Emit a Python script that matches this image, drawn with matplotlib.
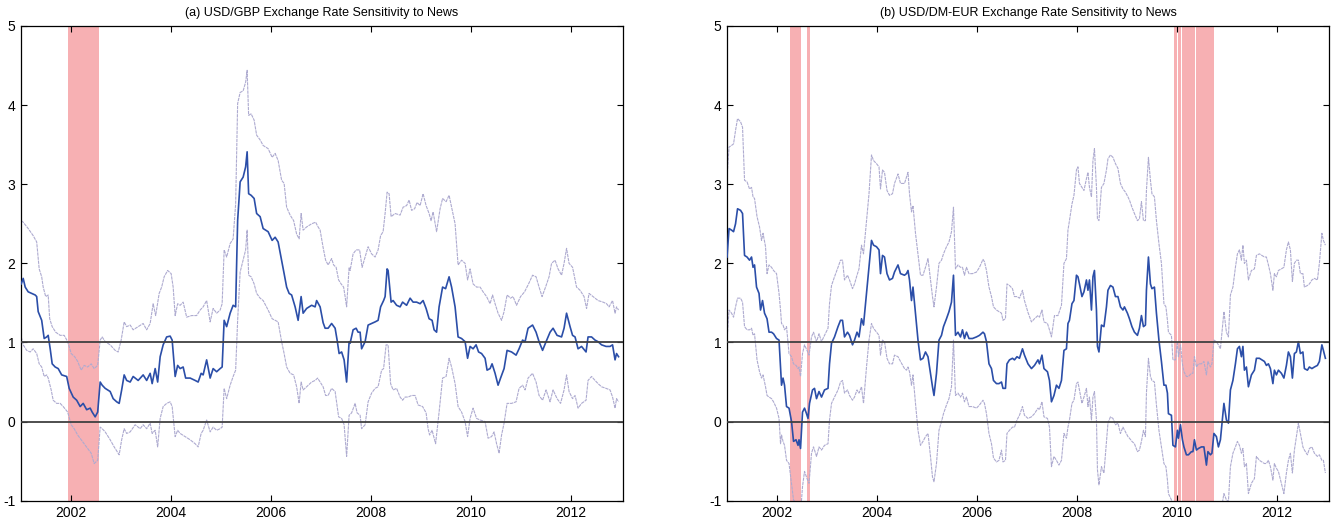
import matplotlib
matplotlib.use("Agg")
import matplotlib.pyplot as plt
from matplotlib.ticker import FuncFormatter

plt.rcParams['font.family'] = ['Liberation Sans', 'DejaVu Sans']
plt.rcParams['axes.unicode_minus'] = False

# ---- (a) USD/GBP: point estimate and confidence band ----
gbp_t = [2001.01, 2001.05, 2001.09, 2001.15, 2001.22, 2001.29, 2001.32, 2001.35, 2001.42, 2001.47,
         2001.52, 2001.55, 2001.59, 2001.63, 2001.69, 2001.75, 2001.82, 2001.92, 2001.97, 2002.05,
         2002.12, 2002.19, 2002.25, 2002.32, 2002.39, 2002.43, 2002.49, 2002.54, 2002.59, 2002.63,
         2002.69, 2002.79, 2002.85, 2002.92, 2002.97, 2003.02, 2003.07, 2003.12, 2003.19, 2003.25,
         2003.35, 2003.45, 2003.52, 2003.59, 2003.63, 2003.69, 2003.74, 2003.79, 2003.85, 2003.92,
         2003.99, 2004.03, 2004.09, 2004.14, 2004.19, 2004.25, 2004.30, 2004.39, 2004.49, 2004.55,
         2004.61, 2004.65, 2004.72, 2004.79, 2004.85, 2004.92, 2004.99, 2005.03, 2005.07, 2005.12,
         2005.19, 2005.25, 2005.30, 2005.34, 2005.39, 2005.45, 2005.50, 2005.53, 2005.56, 2005.61,
         2005.67, 2005.72, 2005.79, 2005.85, 2005.95, 2006.03, 2006.09, 2006.15, 2006.22, 2006.27,
         2006.32, 2006.37, 2006.42, 2006.49, 2006.55, 2006.61, 2006.65, 2006.72, 2006.82, 2006.89,
         2006.92, 2006.99, 2007.05, 2007.09, 2007.15, 2007.22, 2007.29, 2007.33, 2007.37, 2007.42,
         2007.47, 2007.52, 2007.57, 2007.59, 2007.65, 2007.71, 2007.75, 2007.79, 2007.82, 2007.89,
         2007.95, 2008.02, 2008.09, 2008.15, 2008.20, 2008.26, 2008.29, 2008.33, 2008.35, 2008.41,
         2008.45, 2008.52, 2008.59, 2008.64, 2008.72, 2008.79, 2008.85, 2008.92, 2008.99, 2009.05,
         2009.11, 2009.17, 2009.23, 2009.27, 2009.32, 2009.37, 2009.44, 2009.50, 2009.57, 2009.62,
         2009.69, 2009.75, 2009.82, 2009.89, 2009.94, 2009.99, 2010.05, 2010.11, 2010.16, 2010.22,
         2010.29, 2010.33, 2010.39, 2010.43, 2010.49, 2010.55, 2010.60, 2010.67, 2010.73, 2010.82,
         2010.91, 2010.97, 2011.04, 2011.09, 2011.15, 2011.24, 2011.31, 2011.37, 2011.44, 2011.51,
         2011.59, 2011.65, 2011.73, 2011.82, 2011.87, 2011.92, 2011.99, 2012.04, 2012.09, 2012.15,
         2012.22, 2012.31, 2012.35, 2012.42, 2012.49, 2012.55, 2012.62, 2012.71, 2012.79, 2012.84,
         2012.89, 2012.92, 2012.96]
gbp_mid = [1.74, 1.81, 1.70, 1.64, 1.62, 1.60, 1.58, 1.39, 1.28, 1.05,
           1.07, 1.09, 0.92, 0.73, 0.69, 0.67, 0.59, 0.57, 0.42, 0.31,
           0.27, 0.19, 0.23, 0.15, 0.17, 0.12, 0.06, 0.12, 0.50, 0.46,
           0.42, 0.38, 0.29, 0.25, 0.23, 0.40, 0.59, 0.52, 0.50, 0.57,
           0.52, 0.59, 0.52, 0.61, 0.48, 0.67, 0.50, 0.82, 0.97, 1.07,
           1.08, 1.03, 0.57, 0.71, 0.67, 0.69, 0.55, 0.55, 0.52, 0.50,
           0.61, 0.59, 0.78, 0.55, 0.67, 0.63, 0.67, 0.69, 1.28, 1.20,
           1.37, 1.47, 1.45, 2.54, 3.03, 3.09, 3.22, 3.41, 2.88, 2.86,
           2.82, 2.63, 2.59, 2.44, 2.40, 2.29, 2.33, 2.27, 2.04, 1.87,
           1.70, 1.62, 1.60, 1.45, 1.28, 1.58, 1.37, 1.43, 1.47, 1.45,
           1.53, 1.45, 1.25, 1.18, 1.18, 1.24, 1.18, 1.03, 0.86, 0.88,
           0.78, 0.50, 1.01, 0.99, 1.16, 1.18, 1.13, 1.13, 0.92, 1.01,
           1.22, 1.24, 1.26, 1.28, 1.45, 1.53, 1.58, 1.93, 1.91, 1.51,
           1.53, 1.47, 1.45, 1.51, 1.47, 1.56, 1.51, 1.51, 1.49, 1.53,
           1.43, 1.30, 1.28, 1.16, 1.13, 1.45, 1.70, 1.68, 1.83, 1.70,
           1.45, 1.07, 1.05, 1.01, 0.80, 0.95, 0.92, 0.97, 0.88, 0.86,
           0.80, 0.65, 0.67, 0.73, 0.61, 0.46, 0.55, 0.67, 0.90, 0.88,
           0.84, 0.92, 1.03, 1.01, 1.18, 1.22, 1.13, 1.01, 0.90, 1.01,
           1.13, 1.18, 1.09, 1.07, 1.18, 1.37, 1.20, 1.09, 1.07, 0.92,
           0.95, 0.88, 1.07, 1.07, 1.03, 1.01, 0.97, 0.95, 0.95, 0.97,
           0.78, 0.86, 0.82]

gbp_hi_t = [2001.01, 2001.05, 2001.15, 2001.25, 2001.32, 2001.37, 2001.42, 2001.45, 2001.50, 2001.55,
            2001.58, 2001.63, 2001.70, 2001.79, 2001.87, 2001.94, 2002.01, 2002.08, 2002.14, 2002.21,
            2002.27, 2002.34, 2002.41, 2002.47, 2002.54, 2002.59, 2002.63, 2002.69, 2002.79, 2002.89,
            2002.95, 2003.01, 2003.07, 2003.12, 2003.19, 2003.25, 2003.35, 2003.45, 2003.52, 2003.59,
            2003.65, 2003.70, 2003.77, 2003.82, 2003.87, 2003.94, 2004.01, 2004.05, 2004.09, 2004.14,
            2004.19, 2004.25, 2004.32, 2004.42, 2004.52, 2004.59, 2004.65, 2004.72, 2004.79, 2004.85,
            2004.92, 2004.99, 2005.03, 2005.07, 2005.12, 2005.19, 2005.25, 2005.30, 2005.34, 2005.39,
            2005.45, 2005.50, 2005.53, 2005.56, 2005.61, 2005.67, 2005.72, 2005.79, 2005.85, 2005.95,
            2006.03, 2006.09, 2006.15, 2006.22, 2006.27, 2006.32, 2006.39, 2006.46, 2006.52, 2006.57,
            2006.61, 2006.65, 2006.72, 2006.82, 2006.90, 2006.95, 2006.99, 2007.05, 2007.10, 2007.15,
            2007.22, 2007.26, 2007.31, 2007.36, 2007.41, 2007.46, 2007.49, 2007.52, 2007.57, 2007.59,
            2007.65, 2007.71, 2007.78, 2007.83, 2007.89, 2007.95, 2008.02, 2008.09, 2008.15, 2008.20,
            2008.25, 2008.29, 2008.33, 2008.37, 2008.41, 2008.49, 2008.59, 2008.65, 2008.72, 2008.77,
            2008.82, 2008.88, 2008.93, 2008.99, 2009.05, 2009.11, 2009.17, 2009.21, 2009.25, 2009.32,
            2009.39, 2009.44, 2009.51, 2009.57, 2009.62, 2009.69, 2009.75, 2009.82, 2009.89, 2009.94,
            2009.99, 2010.05, 2010.12, 2010.19, 2010.25, 2010.32, 2010.39, 2010.44, 2010.49, 2010.55,
            2010.62, 2010.67, 2010.73, 2010.80, 2010.85, 2010.92, 2011.00, 2011.08, 2011.16, 2011.24,
            2011.31, 2011.37, 2011.43, 2011.50, 2011.57, 2011.62, 2011.69, 2011.75, 2011.82, 2011.87,
            2011.92, 2011.97, 2012.04, 2012.12, 2012.19, 2012.27, 2012.32, 2012.37, 2012.45, 2012.55,
            2012.65, 2012.72, 2012.77, 2012.84, 2012.89, 2012.92, 2012.96]
gbp_hi = [2.54, 2.52, 2.44, 2.35, 2.27, 1.93, 1.83, 1.70, 1.58, 1.60,
          1.30, 1.20, 1.13, 1.09, 1.09, 1.01, 0.86, 0.82, 0.76, 0.65,
          0.71, 0.69, 0.73, 0.67, 0.71, 1.03, 1.07, 1.01, 0.97, 0.90,
          0.88, 1.03, 1.26, 1.20, 1.22, 1.16, 1.20, 1.24, 1.16, 1.24,
          1.49, 1.34, 1.62, 1.70, 1.83, 1.91, 1.87, 1.70, 1.34, 1.49,
          1.47, 1.51, 1.32, 1.34, 1.34, 1.41, 1.45, 1.53, 1.26, 1.43,
          1.37, 1.41, 1.49, 2.17, 2.08, 2.25, 2.31, 2.75, 4.02, 4.16,
          4.18, 4.29, 4.44, 3.87, 3.89, 3.81, 3.62, 3.56, 3.49, 3.45,
          3.34, 3.39, 3.30, 3.05, 3.01, 2.71, 2.61, 2.54, 2.37, 2.31,
          2.63, 2.42, 2.46, 2.50, 2.52, 2.46, 2.42, 2.20, 2.04, 1.98,
          2.06, 1.98, 1.95, 1.79, 1.74, 1.70, 1.58, 1.45, 1.95, 1.91,
          2.12, 2.17, 2.17, 1.95, 2.08, 2.21, 2.12, 2.08, 2.17, 2.35,
          2.40, 2.63, 2.90, 2.88, 2.59, 2.63, 2.61, 2.71, 2.73, 2.80,
          2.67, 2.69, 2.77, 2.73, 2.88, 2.73, 2.63, 2.54, 2.65, 2.40,
          2.69, 2.82, 2.78, 2.86, 2.71, 2.50, 1.98, 2.04, 2.00, 1.79,
          1.93, 1.74, 1.70, 1.70, 1.64, 1.58, 1.49, 1.60, 1.49, 1.37,
          1.28, 1.39, 1.60, 1.56, 1.58, 1.47, 1.58, 1.64, 1.74, 1.85,
          1.83, 1.70, 1.58, 1.70, 1.83, 2.00, 2.04, 1.93, 1.85, 2.00,
          2.19, 2.00, 1.95, 1.70, 1.66, 1.58, 1.43, 1.62, 1.58, 1.53,
          1.51, 1.49, 1.45, 1.53, 1.37, 1.45, 1.41]

gbp_lo_t = [2001.01, 2001.05, 2001.12, 2001.19, 2001.25, 2001.32, 2001.37, 2001.42, 2001.47, 2001.52,
            2001.55, 2001.61, 2001.65, 2001.72, 2001.79, 2001.85, 2001.94, 2002.01, 2002.07, 2002.14,
            2002.21, 2002.27, 2002.34, 2002.41, 2002.47, 2002.54, 2002.59, 2002.63, 2002.69, 2002.79,
            2002.87, 2002.97, 2003.02, 2003.07, 2003.12, 2003.19, 2003.29, 2003.39, 2003.45, 2003.52,
            2003.59, 2003.63, 2003.69, 2003.74, 2003.79, 2003.85, 2003.92, 2003.99, 2004.03, 2004.09,
            2004.14, 2004.19, 2004.29, 2004.39, 2004.49, 2004.55, 2004.61, 2004.65, 2004.72, 2004.79,
            2004.85, 2004.92, 2004.99, 2005.03, 2005.07, 2005.12, 2005.19, 2005.25, 2005.30, 2005.34,
            2005.39, 2005.45, 2005.50, 2005.53, 2005.56, 2005.61, 2005.67, 2005.72, 2005.79, 2005.85,
            2005.95, 2006.03, 2006.09, 2006.15, 2006.22, 2006.27, 2006.32, 2006.39, 2006.46, 2006.52,
            2006.57, 2006.61, 2006.65, 2006.72, 2006.82, 2006.89, 2006.94, 2006.99, 2007.05, 2007.10,
            2007.15, 2007.22, 2007.29, 2007.36, 2007.42, 2007.47, 2007.52, 2007.57, 2007.62, 2007.69,
            2007.73, 2007.79, 2007.82, 2007.89, 2007.95, 2008.02, 2008.09, 2008.15, 2008.22, 2008.26,
            2008.31, 2008.35, 2008.40, 2008.45, 2008.52, 2008.59, 2008.64, 2008.69, 2008.75, 2008.82,
            2008.89, 2008.95, 2009.04, 2009.11, 2009.15, 2009.18, 2009.23, 2009.30, 2009.37, 2009.44,
            2009.51, 2009.57, 2009.62, 2009.69, 2009.75, 2009.82, 2009.89, 2009.94, 2009.99, 2010.05,
            2010.12, 2010.19, 2010.29, 2010.35, 2010.42, 2010.47, 2010.52, 2010.57, 2010.62, 2010.67,
            2010.73, 2010.82, 2010.91, 2010.97, 2011.04, 2011.09, 2011.15, 2011.24, 2011.31, 2011.37,
            2011.44, 2011.51, 2011.59, 2011.65, 2011.73, 2011.80, 2011.87, 2011.92, 2011.97, 2012.04,
            2012.09, 2012.15, 2012.22, 2012.31, 2012.35, 2012.42, 2012.49, 2012.55, 2012.62, 2012.71,
            2012.79, 2012.84, 2012.89, 2012.92, 2012.96]
gbp_lo = [1.07, 0.97, 0.90, 0.88, 0.92, 0.86, 0.73, 0.69, 0.57, 0.59,
          0.55, 0.40, 0.27, 0.23, 0.23, 0.19, 0.12, -0.04, -0.09, -0.17,
          -0.23, -0.28, -0.34, -0.40, -0.53, -0.49, -0.07, -0.09, -0.13, -0.23,
          -0.32, -0.42, -0.23, -0.09, -0.15, -0.13, -0.04, -0.09, -0.04, -0.09,
          -0.02, -0.15, -0.11, -0.32, 0.04, 0.19, 0.23, 0.25, 0.19, -0.19,
          -0.11, -0.15, -0.19, -0.23, -0.28, -0.32, -0.15, -0.11, 0.02, -0.13,
          -0.07, -0.11, -0.09, -0.07, 0.42, 0.29, 0.46, 0.57, 0.65, 1.28,
          1.89, 2.04, 2.17, 2.42, 1.85, 1.83, 1.74, 1.62, 1.56, 1.53,
          1.41, 1.30, 1.28, 1.26, 1.01, 0.86, 0.69, 0.61, 0.59, 0.44,
          0.23, 0.50, 0.40, 0.44, 0.50, 0.52, 0.55, 0.50, 0.44, 0.33,
          0.33, 0.42, 0.38, 0.06, 0.04, -0.04, -0.44, 0.08, 0.11, 0.23,
          0.11, 0.08, -0.09, -0.04, 0.25, 0.36, 0.42, 0.44, 0.65, 0.67,
          0.97, 0.97, 0.48, 0.40, 0.42, 0.31, 0.27, 0.31, 0.31, 0.33,
          0.33, 0.21, 0.19, 0.11, -0.09, -0.17, -0.11, -0.28, 0.12, 0.55,
          0.57, 0.80, 0.69, 0.48, 0.19, 0.12, 0.00, -0.19, 0.04, 0.17,
          0.04, 0.02, 0.00, -0.21, -0.19, -0.13, -0.28, -0.40, -0.17, -0.02,
          0.23, 0.23, 0.25, 0.42, 0.46, 0.40, 0.55, 0.61, 0.50, 0.33,
          0.27, 0.40, 0.25, 0.40, 0.29, 0.23, 0.40, 0.59, 0.38, 0.29,
          0.33, 0.17, 0.23, 0.27, 0.52, 0.57, 0.52, 0.48, 0.44, 0.42,
          0.40, 0.31, 0.17, 0.29, 0.25]

# significance periods shaded in panel (a)
gbp_shade = [(2001.953, 2002.559)]

# ---- (b) USD/DM-EUR: point estimate and confidence band ----
eur_t = [2001.00, 2001.04, 2001.09, 2001.13, 2001.17, 2001.21, 2001.27, 2001.31, 2001.35, 2001.40,
         2001.45, 2001.49, 2001.52, 2001.55, 2001.59, 2001.64, 2001.67, 2001.71, 2001.75, 2001.80,
         2001.84, 2001.89, 2001.93, 2001.99, 2002.04, 2002.07, 2002.09, 2002.12, 2002.15, 2002.19,
         2002.24, 2002.29, 2002.33, 2002.38, 2002.42, 2002.44, 2002.47, 2002.51, 2002.55, 2002.59,
         2002.62, 2002.65, 2002.71, 2002.75, 2002.79, 2002.84, 2002.89, 2002.95, 2003.02, 2003.05,
         2003.09, 2003.15, 2003.22, 2003.27, 2003.31, 2003.35, 2003.41, 2003.45, 2003.51, 2003.55,
         2003.60, 2003.64, 2003.69, 2003.73, 2003.79, 2003.84, 2003.89, 2003.93, 2003.99, 2004.04,
         2004.07, 2004.11, 2004.15, 2004.20, 2004.25, 2004.31, 2004.35, 2004.42, 2004.47, 2004.55,
         2004.59, 2004.62, 2004.65, 2004.69, 2004.72, 2004.77, 2004.82, 2004.87, 2004.92, 2004.97,
         2005.02, 2005.07, 2005.11, 2005.14, 2005.19, 2005.24, 2005.29, 2005.33, 2005.39, 2005.44,
         2005.49, 2005.53, 2005.57, 2005.62, 2005.67, 2005.71, 2005.75, 2005.79, 2005.84, 2005.91,
         2005.99, 2006.05, 2006.12, 2006.15, 2006.19, 2006.24, 2006.29, 2006.33, 2006.39, 2006.44,
         2006.49, 2006.52, 2006.57, 2006.60, 2006.65, 2006.71, 2006.75, 2006.80, 2006.85, 2006.91,
         2006.95, 2007.02, 2007.09, 2007.15, 2007.22, 2007.25, 2007.30, 2007.34, 2007.41, 2007.45,
         2007.49, 2007.54, 2007.59, 2007.64, 2007.69, 2007.74, 2007.79, 2007.82, 2007.85, 2007.90,
         2007.94, 2007.99, 2008.02, 2008.05, 2008.10, 2008.14, 2008.19, 2008.22, 2008.25, 2008.29,
         2008.32, 2008.35, 2008.39, 2008.41, 2008.44, 2008.49, 2008.54, 2008.59, 2008.62, 2008.67,
         2008.72, 2008.77, 2008.82, 2008.87, 2008.92, 2008.95, 2009.01, 2009.05, 2009.10, 2009.15,
         2009.21, 2009.25, 2009.29, 2009.33, 2009.37, 2009.39, 2009.43, 2009.47, 2009.50, 2009.55,
         2009.59, 2009.64, 2009.69, 2009.74, 2009.78, 2009.81, 2009.83, 2009.89, 2009.92, 2009.97,
         2010.01, 2010.03, 2010.07, 2010.11, 2010.14, 2010.19, 2010.23, 2010.29, 2010.32, 2010.35,
         2010.39, 2010.43, 2010.49, 2010.54, 2010.59, 2010.62, 2010.67, 2010.70, 2010.74, 2010.79,
         2010.83, 2010.87, 2010.94, 2010.99, 2011.03, 2011.07, 2011.12, 2011.17, 2011.21, 2011.25,
         2011.29, 2011.32, 2011.35, 2011.39, 2011.43, 2011.49, 2011.55, 2011.59, 2011.65, 2011.70,
         2011.75, 2011.79, 2011.83, 2011.87, 2011.92, 2011.95, 2011.99, 2012.03, 2012.09, 2012.14,
         2012.19, 2012.23, 2012.27, 2012.31, 2012.35, 2012.39, 2012.43, 2012.47, 2012.52, 2012.55,
         2012.61, 2012.65, 2012.70, 2012.75, 2012.81, 2012.85, 2012.90, 2012.93, 2012.97]
eur_mid = [2.08, 2.44, 2.42, 2.40, 2.50, 2.69, 2.67, 2.63, 2.10, 2.08,
           2.04, 2.08, 1.95, 1.98, 1.70, 1.62, 1.41, 1.53, 1.37, 1.30,
           1.13, 1.13, 1.11, 1.05, 1.03, 0.69, 0.46, 0.55, 0.46, 0.19,
           0.17, 0.00, -0.25, -0.23, -0.30, -0.23, -0.34, 0.12, 0.17, 0.10,
           0.04, 0.23, 0.40, 0.42, 0.29, 0.38, 0.31, 0.40, 0.42, 0.73,
           0.99, 1.07, 1.20, 1.28, 1.28, 1.07, 1.13, 1.09, 0.97, 1.03,
           1.13, 1.07, 1.30, 1.22, 1.62, 1.95, 2.29, 2.23, 2.21, 2.17,
           1.87, 2.10, 2.08, 1.87, 1.79, 1.81, 1.89, 1.98, 1.87, 1.85,
           1.87, 1.91, 1.79, 1.53, 1.70, 1.37, 1.03, 0.78, 0.80, 0.88,
           0.82, 0.61, 0.44, 0.33, 0.61, 1.03, 1.09, 1.20, 1.30, 1.39,
           1.51, 1.85, 1.09, 1.13, 1.07, 1.16, 1.05, 1.13, 1.05, 1.05,
           1.07, 1.09, 1.13, 1.11, 1.01, 0.73, 0.67, 0.52, 0.48, 0.48,
           0.50, 0.42, 0.42, 0.73, 0.78, 0.80, 0.78, 0.82, 0.80, 0.92,
           0.84, 0.73, 0.67, 0.71, 0.78, 0.73, 0.84, 0.67, 0.63, 0.52,
           0.25, 0.33, 0.46, 0.42, 0.52, 0.90, 0.92, 1.24, 1.28, 1.49,
           1.53, 1.85, 1.83, 1.74, 1.58, 1.64, 1.79, 1.66, 1.79, 1.41,
           1.83, 1.91, 1.41, 0.95, 0.88, 1.22, 1.20, 1.45, 1.66, 1.72,
           1.70, 1.58, 1.58, 1.45, 1.41, 1.45, 1.37, 1.30, 1.20, 1.13,
           1.09, 1.18, 1.34, 1.20, 1.22, 1.66, 2.08, 1.74, 1.68, 1.70,
           1.37, 1.03, 0.76, 0.46, 0.46, 0.36, 0.10, 0.08, -0.30, -0.32,
           -0.11, -0.21, -0.04, -0.23, -0.32, -0.42, -0.42, -0.38, -0.38, -0.23,
           -0.36, -0.34, -0.32, -0.32, -0.55, -0.38, -0.42, -0.40, -0.15, -0.19,
           -0.32, -0.23, 0.23, 0.02, -0.02, 0.40, 0.52, 0.73, 0.92, 0.95,
           0.82, 0.95, 0.65, 0.69, 0.44, 0.59, 0.65, 0.80, 0.80, 0.78,
           0.76, 0.71, 0.73, 0.67, 0.48, 0.65, 0.59, 0.65, 0.61, 0.55,
           0.71, 0.88, 0.82, 0.55, 0.86, 0.88, 1.01, 0.86, 0.88, 0.67,
           0.65, 0.69, 0.67, 0.69, 0.71, 0.76, 0.97, 0.90, 0.80]

eur_hi_t = [2001.00, 2001.04, 2001.09, 2001.13, 2001.17, 2001.21, 2001.27, 2001.31, 2001.35, 2001.40,
            2001.45, 2001.49, 2001.52, 2001.55, 2001.60, 2001.65, 2001.69, 2001.72, 2001.77, 2001.80,
            2001.84, 2001.89, 2001.93, 2001.99, 2002.04, 2002.07, 2002.09, 2002.12, 2002.15, 2002.19,
            2002.24, 2002.29, 2002.33, 2002.38, 2002.42, 2002.44, 2002.47, 2002.51, 2002.55, 2002.60,
            2002.64, 2002.69, 2002.73, 2002.79, 2002.84, 2002.89, 2002.95, 2003.02, 2003.05, 2003.09,
            2003.15, 2003.22, 2003.27, 2003.31, 2003.35, 2003.41, 2003.45, 2003.51, 2003.55, 2003.60,
            2003.64, 2003.69, 2003.73, 2003.79, 2003.84, 2003.89, 2003.93, 2003.99, 2004.04, 2004.07,
            2004.11, 2004.15, 2004.20, 2004.25, 2004.31, 2004.35, 2004.42, 2004.47, 2004.55, 2004.59,
            2004.62, 2004.65, 2004.69, 2004.72, 2004.77, 2004.82, 2004.87, 2004.92, 2004.97, 2005.02,
            2005.07, 2005.11, 2005.14, 2005.19, 2005.24, 2005.29, 2005.33, 2005.39, 2005.44, 2005.49,
            2005.53, 2005.57, 2005.62, 2005.67, 2005.71, 2005.75, 2005.79, 2005.84, 2005.91, 2005.99,
            2006.05, 2006.12, 2006.15, 2006.19, 2006.24, 2006.29, 2006.33, 2006.39, 2006.44, 2006.49,
            2006.52, 2006.57, 2006.60, 2006.65, 2006.71, 2006.75, 2006.80, 2006.85, 2006.91, 2006.95,
            2007.02, 2007.09, 2007.15, 2007.22, 2007.25, 2007.30, 2007.34, 2007.41, 2007.45, 2007.49,
            2007.55, 2007.62, 2007.69, 2007.74, 2007.79, 2007.82, 2007.85, 2007.90, 2007.94, 2007.99,
            2008.02, 2008.05, 2008.10, 2008.14, 2008.19, 2008.22, 2008.25, 2008.29, 2008.32, 2008.35,
            2008.39, 2008.41, 2008.44, 2008.49, 2008.54, 2008.59, 2008.62, 2008.67, 2008.72, 2008.77,
            2008.82, 2008.87, 2008.92, 2008.97, 2009.02, 2009.05, 2009.10, 2009.15, 2009.21, 2009.25,
            2009.29, 2009.33, 2009.37, 2009.39, 2009.43, 2009.47, 2009.50, 2009.55, 2009.59, 2009.64,
            2009.69, 2009.74, 2009.78, 2009.81, 2009.83, 2009.89, 2009.92, 2009.97, 2010.01, 2010.03,
            2010.07, 2010.11, 2010.14, 2010.19, 2010.23, 2010.29, 2010.32, 2010.35, 2010.39, 2010.43,
            2010.49, 2010.54, 2010.59, 2010.62, 2010.67, 2010.70, 2010.74, 2010.79, 2010.83, 2010.87,
            2010.94, 2010.99, 2011.03, 2011.07, 2011.12, 2011.17, 2011.21, 2011.25, 2011.29, 2011.32,
            2011.35, 2011.39, 2011.43, 2011.49, 2011.55, 2011.59, 2011.65, 2011.70, 2011.75, 2011.79,
            2011.83, 2011.87, 2011.92, 2011.95, 2011.99, 2012.03, 2012.09, 2012.14, 2012.19, 2012.23,
            2012.27, 2012.31, 2012.35, 2012.39, 2012.43, 2012.47, 2012.52, 2012.55, 2012.61, 2012.65,
            2012.70, 2012.75, 2012.81, 2012.85, 2012.90, 2012.93, 2012.97]
eur_hi = [3.09, 3.47, 3.49, 3.51, 3.68, 3.83, 3.79, 3.72, 3.05, 3.03,
          2.94, 2.96, 2.84, 2.82, 2.59, 2.46, 2.29, 2.38, 2.21, 1.87,
          1.98, 1.95, 1.91, 1.87, 1.62, 1.41, 1.24, 1.22, 1.16, 1.20,
          0.86, 0.82, 0.73, 0.71, 0.67, 0.69, 0.57, 0.86, 0.97, 0.90,
          0.84, 1.07, 1.13, 1.01, 1.11, 1.01, 1.09, 1.18, 1.49, 1.72,
          1.83, 1.95, 2.04, 2.04, 1.79, 1.85, 1.79, 1.68, 1.74, 1.85,
          1.93, 2.23, 2.12, 2.54, 2.88, 3.37, 3.30, 3.26, 3.22, 2.94,
          3.18, 3.15, 2.92, 2.86, 2.88, 3.01, 3.13, 3.01, 3.01, 3.09,
          3.15, 2.88, 2.65, 2.73, 2.38, 2.12, 1.85, 1.85, 1.95, 2.06,
          1.79, 1.58, 1.45, 1.70, 2.00, 2.04, 2.12, 2.21, 2.27, 2.40,
          2.71, 1.93, 1.98, 1.95, 1.95, 1.85, 1.95, 1.87, 1.87, 1.89,
          1.95, 2.05, 2.02, 1.91, 1.70, 1.58, 1.45, 1.41, 1.39, 1.37,
          1.28, 1.30, 1.74, 1.72, 1.68, 1.58, 1.58, 1.56, 1.66, 1.53,
          1.38, 1.26, 1.30, 1.34, 1.32, 1.41, 1.26, 1.24, 1.16, 1.07,
          1.34, 1.34, 1.47, 2.00, 2.06, 2.42, 2.54, 2.75, 2.86, 3.18,
          3.22, 3.01, 2.96, 2.92, 3.07, 3.15, 2.96, 2.84, 3.30, 3.45,
          2.96, 2.56, 2.54, 2.96, 3.01, 3.18, 3.32, 3.37, 3.34, 3.26,
          3.20, 3.01, 2.94, 2.90, 2.84, 2.80, 2.71, 2.63, 2.54, 2.56,
          2.78, 2.54, 2.54, 2.92, 3.34, 3.05, 2.88, 2.84, 2.54, 2.25,
          2.00, 1.49, 1.45, 1.28, 1.13, 1.09, 0.78, 0.78, 1.01, 0.82,
          0.97, 0.73, 0.63, 0.57, 0.57, 0.61, 0.61, 0.82, 0.69, 0.73,
          0.73, 0.76, 0.59, 0.76, 0.69, 0.73, 1.03, 1.01, 0.97, 0.92,
          1.39, 1.13, 1.07, 1.60, 1.70, 1.95, 2.12, 2.17, 2.04, 2.23,
          2.00, 2.04, 1.79, 1.91, 1.93, 2.10, 2.12, 2.10, 2.08, 2.08,
          1.98, 1.87, 1.66, 1.87, 1.83, 1.91, 1.93, 1.95, 2.17, 2.27,
          2.17, 1.77, 2.00, 2.04, 2.04, 1.87, 1.87, 1.70, 1.72, 1.74,
          1.79, 1.81, 1.79, 2.00, 2.38, 2.29, 2.23]

eur_lo_t = [2001.00, 2001.04, 2001.09, 2001.13, 2001.17, 2001.21, 2001.27, 2001.31, 2001.35, 2001.40,
            2001.45, 2001.49, 2001.52, 2001.55, 2001.60, 2001.65, 2001.69, 2001.72, 2001.77, 2001.80,
            2001.84, 2001.89, 2001.93, 2001.99, 2002.04, 2002.07, 2002.09, 2002.12, 2002.15, 2002.19,
            2002.24, 2002.29, 2002.33, 2002.38, 2002.42, 2002.47, 2002.51, 2002.55, 2002.60, 2002.64,
            2002.69, 2002.73, 2002.79, 2002.84, 2002.89, 2002.95, 2003.02, 2003.05, 2003.09, 2003.15,
            2003.22, 2003.27, 2003.31, 2003.35, 2003.41, 2003.45, 2003.51, 2003.55, 2003.60, 2003.64,
            2003.69, 2003.73, 2003.79, 2003.84, 2003.89, 2003.93, 2003.99, 2004.04, 2004.07, 2004.11,
            2004.15, 2004.20, 2004.25, 2004.31, 2004.35, 2004.42, 2004.47, 2004.55, 2004.59, 2004.62,
            2004.65, 2004.69, 2004.72, 2004.77, 2004.82, 2004.87, 2004.92, 2004.97, 2005.02, 2005.07,
            2005.11, 2005.14, 2005.19, 2005.24, 2005.29, 2005.33, 2005.39, 2005.44, 2005.49, 2005.53,
            2005.57, 2005.62, 2005.67, 2005.71, 2005.75, 2005.79, 2005.84, 2005.91, 2005.99, 2006.05,
            2006.12, 2006.15, 2006.19, 2006.24, 2006.29, 2006.33, 2006.39, 2006.44, 2006.49, 2006.52,
            2006.57, 2006.60, 2006.65, 2006.71, 2006.75, 2006.80, 2006.85, 2006.91, 2006.95, 2007.02,
            2007.09, 2007.15, 2007.22, 2007.25, 2007.30, 2007.34, 2007.41, 2007.45, 2007.49, 2007.54,
            2007.59, 2007.64, 2007.69, 2007.74, 2007.79, 2007.82, 2007.85, 2007.90, 2007.94, 2007.99,
            2008.02, 2008.05, 2008.10, 2008.14, 2008.19, 2008.22, 2008.25, 2008.29, 2008.32, 2008.35,
            2008.39, 2008.41, 2008.44, 2008.49, 2008.54, 2008.59, 2008.62, 2008.67, 2008.72, 2008.77,
            2008.82, 2008.87, 2008.92, 2008.97, 2009.02, 2009.05, 2009.10, 2009.15, 2009.21, 2009.25,
            2009.29, 2009.33, 2009.37, 2009.39, 2009.43, 2009.47, 2009.50, 2009.55, 2009.59, 2009.64,
            2009.69, 2009.74, 2009.78, 2009.81, 2009.83, 2009.89, 2009.92, 2010.02, 2010.15, 2010.29,
            2010.42, 2010.59, 2010.74, 2010.83, 2010.89, 2010.94, 2010.99, 2011.03, 2011.07, 2011.12,
            2011.17, 2011.21, 2011.25, 2011.29, 2011.32, 2011.35, 2011.39, 2011.43, 2011.49, 2011.55,
            2011.59, 2011.65, 2011.70, 2011.75, 2011.79, 2011.83, 2011.87, 2011.92, 2011.95, 2011.99,
            2012.03, 2012.09, 2012.14, 2012.19, 2012.23, 2012.27, 2012.31, 2012.35, 2012.39, 2012.43,
            2012.47, 2012.52, 2012.55, 2012.61, 2012.65, 2012.70, 2012.75, 2012.81, 2012.85, 2012.90,
            2012.93, 2012.97]
eur_lo = [1.03, 1.41, 1.37, 1.32, 1.45, 1.56, 1.56, 1.51, 1.20, 1.16,
          1.16, 1.18, 1.09, 1.11, 0.78, 0.63, 0.55, 0.59, 0.44, 0.33,
          0.31, 0.29, 0.25, 0.17, 0.04, -0.28, -0.17, -0.25, -0.30, -0.49,
          -0.53, -0.78, -0.99, -1.03, -1.07, -1.16, -0.82, -0.63, -0.72, -0.78,
          -0.40, -0.32, -0.44, -0.32, -0.36, -0.30, -0.28, 0.02, 0.23, 0.31,
          0.40, 0.50, 0.52, 0.36, 0.40, 0.33, 0.27, 0.31, 0.40, 0.36,
          0.44, 0.23, 0.69, 1.03, 1.24, 1.18, 1.13, 1.09, 0.84, 1.03,
          1.01, 0.80, 0.73, 0.73, 0.84, 0.82, 0.76, 0.67, 0.65, 0.69,
          0.63, 0.46, 0.59, 0.23, -0.11, -0.30, -0.25, -0.19, -0.15, -0.44,
          -0.70, -0.76, -0.53, -0.11, 0.00, 0.10, 0.21, 0.29, 0.44, 1.03,
          0.33, 0.36, 0.31, 0.36, 0.25, 0.31, 0.19, 0.19, 0.17, 0.21,
          0.27, 0.23, 0.10, -0.15, -0.28, -0.46, -0.51, -0.49, -0.36, -0.51,
          -0.49, -0.15, -0.11, -0.07, -0.07, 0.02, 0.08, 0.19, 0.08, 0.04,
          0.06, 0.10, 0.17, 0.15, 0.25, 0.06, 0.04, -0.07, -0.57, -0.44,
          -0.49, -0.55, -0.49, -0.15, -0.21, -0.07, 0.02, 0.23, 0.27, 0.48,
          0.50, 0.40, 0.23, 0.31, 0.42, 0.19, 0.31, 0.02, 0.31, 0.38,
          0.02, -0.61, -0.80, -0.57, -0.65, -0.25, -0.02, 0.06, 0.04, -0.04,
          -0.02, -0.15, -0.07, -0.13, -0.19, -0.21, -0.25, -0.28, -0.38, -0.36,
          -0.25, -0.11, -0.19, 0.36, 0.80, 0.57, 0.52, 0.50, 0.21, -0.11,
          -0.32, -0.53, -0.57, -0.74, -0.91, -0.99, -1.16, -1.20, -1.33, -1.28,
          -1.33, -1.50, -1.16, -1.28, -1.10, -0.91, -0.99, -1.01, -0.57, -0.40,
          -0.32, -0.25, -0.30, -0.40, -0.34, -0.57, -0.53, -0.91, -0.78, -0.72,
          -0.44, -0.49, -0.51, -0.53, -0.53, -0.49, -0.57, -0.74, -0.53, -0.59,
          -0.63, -0.78, -0.91, -0.65, -0.49, -0.40, -0.65, -0.36, -0.19, -0.02,
          -0.15, -0.32, -0.36, -0.42, -0.34, -0.32, -0.40, -0.44, -0.42, -0.49,
          -0.49, -0.65]

# significance periods shaded in panel (b)
eur_shade = [(2002.254, 2002.488), (2002.608, 2002.654), (2009.934, 2010.008),
             (2010.028, 2010.074), (2010.108, 2010.354), (2010.380, 2010.734)]

titles = ['(a) USD/GBP Exchange Rate Sensitivity to News',
          '(b) USD/DM-EUR Exchange Rate Sensitivity to News']
year_ticks = [2002, 2004, 2006, 2008, 2010, 2012]

blue = '#2b4ea8'
band = '#aeabd0'
pink = '#f7b0b3'

fig = plt.figure(figsize=(13.35, 5.22), dpi=100)
ax_a = fig.add_axes([0.0155, 0.0408, 0.4512, 0.9094])
ax_b = fig.add_axes([0.5446, 0.0408, 0.4512, 0.9094])

panels = [
    (ax_a, gbp_t, gbp_mid, gbp_hi_t, gbp_hi, gbp_lo_t, gbp_lo, gbp_shade, titles[0]),
    (ax_b, eur_t, eur_mid, eur_hi_t, eur_hi, eur_lo_t, eur_lo, eur_shade, titles[1]),
]

for ax, t, mid, hi_t, hi, lo_t, lo, shade, title in panels:
    for start, end in shade:
        ax.axvspan(start, end, color=pink, lw=0, zorder=1)
    # confidence band: thin, faint, finely dashed
    ax.plot(hi_t, hi, color=band, lw=0.8, ls=(0, (3, 0.7)), zorder=2)
    ax.plot(lo_t, lo, color=band, lw=0.8, ls=(0, (3, 0.7)), zorder=2)
    ax.plot(t, mid, color=blue, lw=1.2, zorder=3)
    ax.axhline(0, color='#404040', lw=1.3, zorder=4)
    ax.axhline(1, color='#404040', lw=1.3, zorder=4)

    ax.set_xlim(2001.0, 2013.05)
    ax.set_ylim(-1, 5)
    ax.set_xticks(year_ticks)
    ax.set_yticks(range(-1, 6))
    ax.yaxis.set_major_formatter(FuncFormatter(lambda v, p: '%d' % v))
    ax.tick_params(direction='in', top=True, right=True, length=4.5, width=0.8,
                   labelsize=10, pad=4, colors='black')
    for s in ax.spines.values():
        s.set_linewidth(0.9)
    ax.set_title(title, fontsize=9, pad=7)

fig.savefig('out.png', dpi=100)
